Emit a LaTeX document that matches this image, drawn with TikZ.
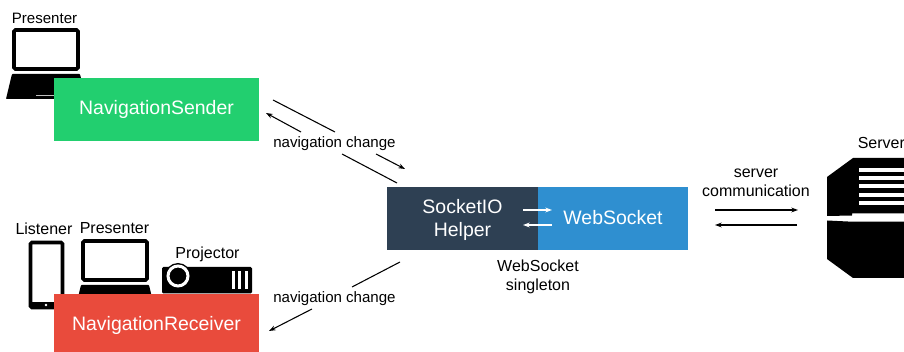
\documentclass[tikz,border=0pt]{standalone}
\usepackage{fontspec}
\setmainfont{Liberation Sans}
\usepackage{tikz}
\usetikzlibrary{arrows.meta, positioning}

\definecolor{SenderGreen}{HTML}{22CF6F}
\definecolor{ReceiverRed}{HTML}{E94B3C}
\definecolor{HelperDark}{HTML}{2E4053}
\definecolor{SocketBlue}{HTML}{2F8FD0}

\begin{document}
\begin{tikzpicture}[x=0.75pt,y=-0.75pt,>={Stealth[length=5pt,width=3.6pt]},
        box/.style={inner sep=0pt,outer sep=0pt,text=white,align=center,
            font=\fontsize{14.6}{17.25}\selectfont},
        caption/.style={inner sep=0pt,align=center,font=\fontsize{12}{14.25}\selectfont},
        line/.style={black,line width=0.8pt},
        whiteline/.style={white,line width=0.8pt},
        device/.style={draw=black,fill=white,line width=2.7pt,rounded corners=1pt}]
    \useasboundingbox (0,0) rectangle (904,352);

    % devices
    \foreach \dx/\dy in {0/0,69/211} {
      \draw[device] (14+\dx,30+\dy) rectangle (78+\dx,69+\dy);
      \fill[black,rounded corners=0.5pt] (12+\dx,74+\dy) -- (80+\dx,74+\dy) -- (86+\dx,99+\dy) -- (6+\dx,99+\dy) -- cycle;
      \fill[white!75!black] (36+\dx,95+\dy) rectangle (56+\dx,96.5+\dy);
    }
    \draw[device] (30.5,242.5) rectangle (62.5,307.5);
    \fill[black] (31,302) rectangle (62,308);
    \fill[white] (46,305) circle (1pt);
    \fill[black,rounded corners=1pt] (162,267) rectangle (252,293.5);
    \fill[black] (178,276) circle (13);
    \draw[white,line width=2.25pt] (178,276) circle (10);
    \foreach \x in {233.5,239.5,246} {
      \fill[white] (\x-1.5,271) rectangle (\x+1.5,289);
    }
    \fill[black] (853,158) -- (904,158) -- (904,213.5) -- (852,213.5) -- (852,215.5) -- (827,216) -- (827,177) -- cycle;
    \fill[black] (827,220.5) -- (852,221.7) -- (904,221.7) -- (904,278) -- (853,278) -- (827,259) -- cycle;
    \foreach \y in {167.7,176,184.3,192.7,201} {
      \fill[white] (859,\y) rectangle (904,\y+4);
    }

    % boxes
    \node[box,fill=SenderGreen,minimum width=153.75pt,minimum height=47.25pt] (sender) at (156.5,109.5) {NavigationSender};
    \node[box,fill=ReceiverRed,minimum width=153.75pt,minimum height=43.5pt,text height=15pt] (receiver) at (156.5,323) {NavigationReceiver};
    \node[box,fill=HelperDark,minimum width=113.25pt,minimum height=47.25pt,text height=30.75pt] (helper) at (462.5,218.5) {SocketIO\\Helper};
    \node[box,fill=SocketBlue,minimum width=112.5pt,minimum height=47.25pt,text depth=1.5pt,right=0pt of helper] (websocket) {WebSocket};

    % texts
    \node[caption,font=\fontsize{11.3}{14.25}\selectfont] (presenter_0) at (44.5,18.5) {Presenter};
    \node[caption] (listener) at (44,228.5) {Listener};
    \node[caption] (presenter_1) at (114.5,228.5) {Presenter};
    \node[caption] (projector) at (207.5,254.5) {Projector};
    \node[caption,anchor=west] (server) at (857.5,142.5) {Server};
    \node[caption,font=\fontsize{11.3}{14.25}\selectfont] (change_0) at (334.5,143.5) {navigation change};
    \node[caption,font=\fontsize{11.3}{14.25}\selectfont] (change_1) at (334.5,298.5) {navigation change};
    \node[caption] (communication) at (756,183) {server\\communication};
    \node[caption] (singleton) at (538,277) {WebSocket\\singleton};

    % connector ends
    \coordinate (a_0) at (273,100);
    \coordinate (a_1) at (335,132);
    \coordinate (a_2) at (342,154);
    \coordinate (a_3) at (397,183);
    \coordinate (b_0) at (301,132);
    \coordinate (b_1) at (266,113);
    \coordinate (b_2) at (376,154);
    \coordinate (b_3) at (405,169);
    \coordinate (c_0) at (400,262);
    \coordinate (c_1) at (352,287);
    \coordinate (c_2) at (312,309);
    \coordinate (c_3) at (269,331);
    \coordinate (d_0) at (715,210);
    \coordinate (d_1) at (798,210);
    \coordinate (e_0) at (797,225);
    \coordinate (e_1) at (715,225);
    \coordinate (f_0) at (523,210);
    \coordinate (f_1) at (552,210);
    \coordinate (g_0) at (552,225);
    \coordinate (g_1) at (523,225);

    \draw[line] (a_0) -- (a_1);
    \draw[line] (a_2) -- (a_3);
    \draw[line,->] (b_0) -- (b_1);
    \draw[line,->] (b_2) -- (b_3);
    \draw[line] (c_0) -- (c_1);
    \draw[line,->] (c_2) -- (c_3);
    \draw[line,->] (d_0) -- (d_1);
    \draw[line,->] (e_0) -- (e_1);
    \draw[whiteline,->] (f_0) -- (f_1);
    \draw[whiteline,->] (g_0) -- (g_1);
\end{tikzpicture}
\end{document}
